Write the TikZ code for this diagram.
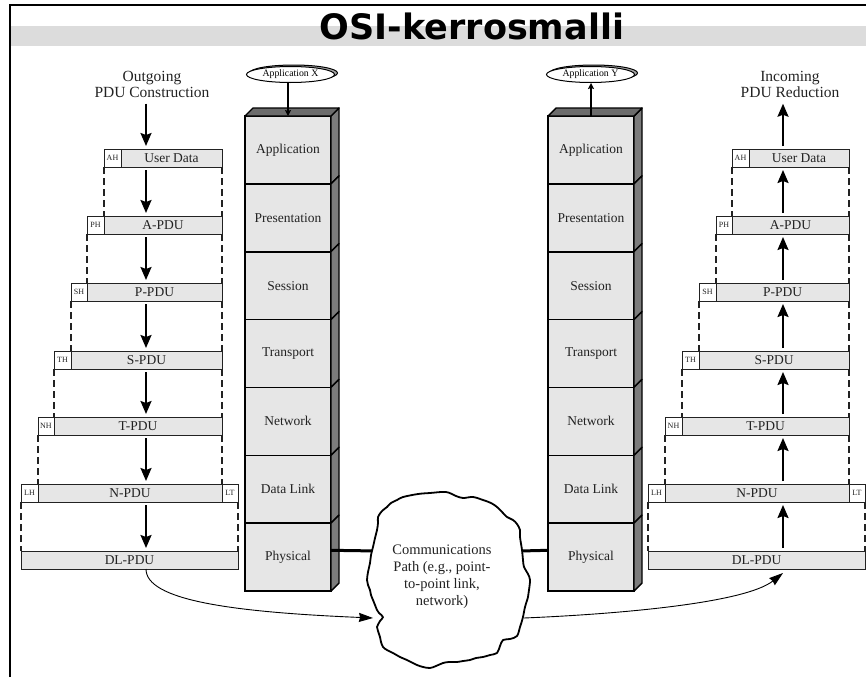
\documentclass[tikz,border=0pt]{standalone}
\usepackage{fontspec}
\setmainfont{Liberation Serif}
\newfontfamily\headfont{DejaVu Sans}
\usetikzlibrary{arrows.meta,shapes.geometric,calc}
\definecolor{boxgray}{HTML}{E6E6E6}
\definecolor{sidegray}{HTML}{7C7C7C}
\definecolor{topgray}{HTML}{6C6C6C}
\definecolor{bandgray}{HTML}{DCDCDC}
\definecolor{inkgray}{HTML}{222222}
\begin{document}
\begin{tikzpicture}[x=1pt,y=-1pt,
  pdu/.style={draw=inkgray, line width=1pt, fill=boxgray, minimum height=18pt,
    inner sep=0pt, outer sep=0pt, anchor=north west, text=inkgray,
    font=\fontsize{13.5}{14}\selectfont},
  hdr/.style={pdu, fill=white, font=\fontsize{8}{8}\selectfont},
  layer/.style={draw=black, line width=1.6pt, fill=boxgray, minimum width=86pt,
    minimum height=67.86pt, inner sep=0pt, outer sep=0pt, anchor=north west,
    text=inkgray, font=\fontsize{13.5}{14}\selectfont},
  stackline/.style={draw=black, line width=1.4pt, line join=round},
  appell/.style={ellipse, draw=black, line width=1pt, fill=white, minimum width=88pt,
    minimum height=16pt, inner sep=0pt, font=\fontsize{9.8}{10}\selectfont},
  colhead/.style={align=center, text=inkgray, font=\fontsize{15.5}{16}\selectfont},
  bigarrow/.style={line width=2pt, -{Stealth[length=13pt,width=11pt,inset=2pt]},
    shorten <=3pt, shorten >=3pt},
  smallarrow/.style={line width=1.3pt, -{Stealth[length=6pt,width=6pt,inset=1pt]}},
  curvearrow/.style={line width=0.9pt, -{Stealth[length=14pt,width=9pt,inset=1pt]}},
  guide/.style={draw=inkgray, line width=1.1pt, dash pattern=on 7pt off 4pt},
  link/.style={line width=3pt}]

\useasboundingbox (0,0) rectangle (866,677);

% frame and title band
\fill[bandgray] (11,26) rectangle (866,46);
\draw[line width=2pt] (10,677) -- (10,5) -- (866,5);
\node[font=\headfont\fontsize{35}{40}\selectfont\bfseries, anchor=base] (title) at (472,40) {OSI-kerrosmalli};

% ---------- left PDU column ----------
\node[colhead] (outL) at (152,84) {Outgoing\\PDU Construction};
\node[hdr, minimum width=17pt] (ahL) at (104,149) {AH};
\node[pdu, minimum width=101pt] (udL) at (121,149) {User Data};
\node[hdr, minimum width=17pt] (phL) at (87,216) {PH};
\node[pdu, minimum width=118pt] (apL) at (104,216) {A-PDU};
\node[hdr, minimum width=16pt] (shL) at (71,283) {SH};
\node[pdu, minimum width=135pt] (ppL) at (87,283) {P-PDU};
\node[hdr, minimum width=17pt] (thL) at (54,351) {TH};
\node[pdu, minimum width=151pt] (spL) at (71,351) {S-PDU};
\node[hdr, minimum width=16pt] (nhL) at (38,417) {NH};
\node[pdu, minimum width=168pt] (tpL) at (54,417) {T-PDU};
\node[hdr, minimum width=17pt] (lhL) at (21,484) {LH};
\node[pdu, minimum width=184pt] (npL) at (38,484) {N-PDU};
\node[hdr, minimum width=16pt] (ltL) at (222,484) {LT};
\node[pdu, minimum width=217pt] (dlL) at (21,551) {DL-PDU};

\draw[guide] (ahL.south west) -- (apL.north west);
\draw[guide] (udL.south east) -- (apL.north east);
\draw[guide] (phL.south west) -- (ppL.north west);
\draw[guide] (apL.south east) -- (ppL.north east);
\draw[guide] (shL.south west) -- (spL.north west);
\draw[guide] (ppL.south east) -- (spL.north east);
\draw[guide] (thL.south west) -- (tpL.north west);
\draw[guide] (spL.south east) -- (tpL.north east);
\draw[guide] (nhL.south west) -- (npL.north west);
\draw[guide] (tpL.south east) -- (npL.north east);
\draw[guide] (lhL.south west) -- (dlL.north west);
\draw[guide] (ltL.south east) -- (dlL.north east);

\coordinate (axL) at (146,0);
\draw[bigarrow] (outL.south -| axL) -- (udL.north -| axL);
\draw[bigarrow] (udL.south -| axL) -- (apL.north -| axL);
\draw[bigarrow] (apL.south -| axL) -- (ppL.north -| axL);
\draw[bigarrow] (ppL.south -| axL) -- (spL.north -| axL);
\draw[bigarrow] (spL.south -| axL) -- (tpL.north -| axL);
\draw[bigarrow] (tpL.south -| axL) -- (npL.north -| axL);
\draw[bigarrow] (npL.south -| axL) -- (dlL.north -| axL);

% ---------- right PDU column ----------
\node[colhead] (inR) at (790,84) {Incoming\\PDU Reduction};
\node[hdr, minimum width=17pt] (ahR) at (732,149) {AH};
\node[pdu, minimum width=100pt] (udR) at (749,149) {User Data};
\node[hdr, minimum width=16pt] (phR) at (716,216) {PH};
\node[pdu, minimum width=117pt] (apR) at (732,216) {A-PDU};
\node[hdr, minimum width=17pt] (shR) at (699,283) {SH};
\node[pdu, minimum width=133pt] (ppR) at (716,283) {P-PDU};
\node[hdr, minimum width=17pt] (thR) at (682,351) {TH};
\node[pdu, minimum width=150pt] (spR) at (699,351) {S-PDU};
\node[hdr, minimum width=17pt] (nhR) at (665,417) {NH};
\node[pdu, minimum width=167pt] (tpR) at (682,417) {T-PDU};
\node[hdr, minimum width=17pt] (lhR) at (648,484) {LH};
\node[pdu, minimum width=184pt] (npR) at (665,484) {N-PDU};
\node[hdr, minimum width=16pt] (ltR) at (849,484) {LT};
\node[pdu, minimum width=217pt] (dlR) at (648,551) {DL-PDU};

\draw[guide] (ahR.south west) -- (apR.north west);
\draw[guide] (udR.south east) -- (apR.north east);
\draw[guide] (phR.south west) -- (ppR.north west);
\draw[guide] (apR.south east) -- (ppR.north east);
\draw[guide] (shR.south west) -- (spR.north west);
\draw[guide] (ppR.south east) -- (spR.north east);
\draw[guide] (thR.south west) -- (tpR.north west);
\draw[guide] (spR.south east) -- (tpR.north east);
\draw[guide] (nhR.south west) -- (npR.north west);
\draw[guide] (tpR.south east) -- (npR.north east);
\draw[guide] (lhR.south west) -- (dlR.north west);
\draw[guide] (ltR.south east) -- (dlR.north east);

\coordinate (axR) at (783,0);
\draw[bigarrow] (udR.north -| axR) -- (inR.south -| axR);
\draw[bigarrow] (apR.north -| axR) -- (udR.south -| axR);
\draw[bigarrow] (ppR.north -| axR) -- (apR.south -| axR);
\draw[bigarrow] (spR.north -| axR) -- (ppR.south -| axR);
\draw[bigarrow] (tpR.north -| axR) -- (spR.south -| axR);
\draw[bigarrow] (npR.north -| axR) -- (tpR.south -| axR);
\draw[bigarrow] (dlR.north -| axR) -- (npR.south -| axR);

% ---------- protocol stacks ----------
\foreach \nm [count=\i from 0] in {Application,Presentation,Session,Transport,Network,Data Link,Physical} {
  \node[layer] (L\i) at (245,{116+67.86*\i}) {\nm};
  \draw[stackline, fill=sidegray] (L\i.north east) -- ++(8,-8) -- ($(L\i.south east)+(8,-8)$) -- (L\i.south east) -- cycle;
  \node[layer] (R\i) at (548,{116+67.86*\i}) {\nm};
  \draw[stackline, fill=sidegray] (R\i.north east) -- ++(8,-8) -- ($(R\i.south east)+(8,-8)$) -- (R\i.south east) -- cycle;
}
\draw[stackline, fill=topgray] (L0.north west) -- ++(8,-8) -- ($(L0.north east)+(8,-8)$) -- (L0.north east) -- cycle;
\draw[stackline, fill=topgray] (R0.north west) -- ++(8,-8) -- ($(R0.north east)+(8,-8)$) -- (R0.north east) -- cycle;

% application ellipses
\draw[line width=1pt, fill=gray!70] (293.5,73) ellipse [x radius=44pt, y radius=8pt];
\node[appell] (appX) at (290.5,74.5) {Application X};
\draw[line width=1pt, fill=gray!70] (593.5,73) ellipse [x radius=44pt, y radius=8pt];
\node[appell] (appY) at (590.5,74.5) {Application Y};
\draw[smallarrow] (L0.north |- appX.south) -- (L0.north);
\draw[smallarrow] (R0.north) -- (R0.north |- appY.south);

% ---------- communications path ----------
\coordinate (cloudW) at (378,551);
\coordinate (cloudE) at (520,551);
\draw[link] ($(L6.north east)!0.4!(L6.south east)$) -- (cloudW);
\draw[link] (cloudE) -- ($(R6.north west)!0.4!(R6.south west)$);
\draw[line width=1.8pt, fill=white, line join=round]
  plot[smooth cycle, tension=0.55] coordinates {
  (403,497) (418,494) (430,493) (446,492) (456,496) (463,498) (473,497) (483,500)
  (491,503) (497,507) (503,513) (507,517) (513,520) (517,524) (520,530) (520,537)
  (522,550) (523,560) (524,567) (528,574) (530,580) (529,590) (528,597) (525,607)
  (523,617) (521,624) (520,627) (517,636) (510,639) (503,640) (500,646) (497,653)
  (490,655) (483,657) (476,658) (470,660) (463,661) (457,662) (449,662) (443,663)
  (436,666) (430,668) (423,667) (417,665) (411,662) (407,660) (400,657) (393,653)
  (387,650) (383,647) (381,642) (380,637) (378,631) (377,627) (380,621) (383,617)
  (379,613) (377,610) (375,605) (373,600) (371,595) (370,590) (368,585) (367,580)
  (368,572) (370,563) (371,555) (373,547) (375,538) (377,530) (378,523) (378,517)
  (382,511) (387,507) (391,503) (397,500)};
\node[align=center, text=inkgray, font=\fontsize{14.5}{17}\selectfont] (cpath) at (442,577)
  {Communications\\Path (e.g., point-\\to-point link,\\network)};

\coordinate (cloudInL) at (373,618);
\coordinate (cloudOutR) at (524,618);
\draw[curvearrow] (dlL.south -| axL) .. controls (146,600) and (230,612) .. (cloudInL);
\draw[curvearrow] (cloudOutR) .. controls (620,614) and (745,603) .. ($(dlR.south -| axR)+(0,4)$);

\end{tikzpicture}
\end{document}
